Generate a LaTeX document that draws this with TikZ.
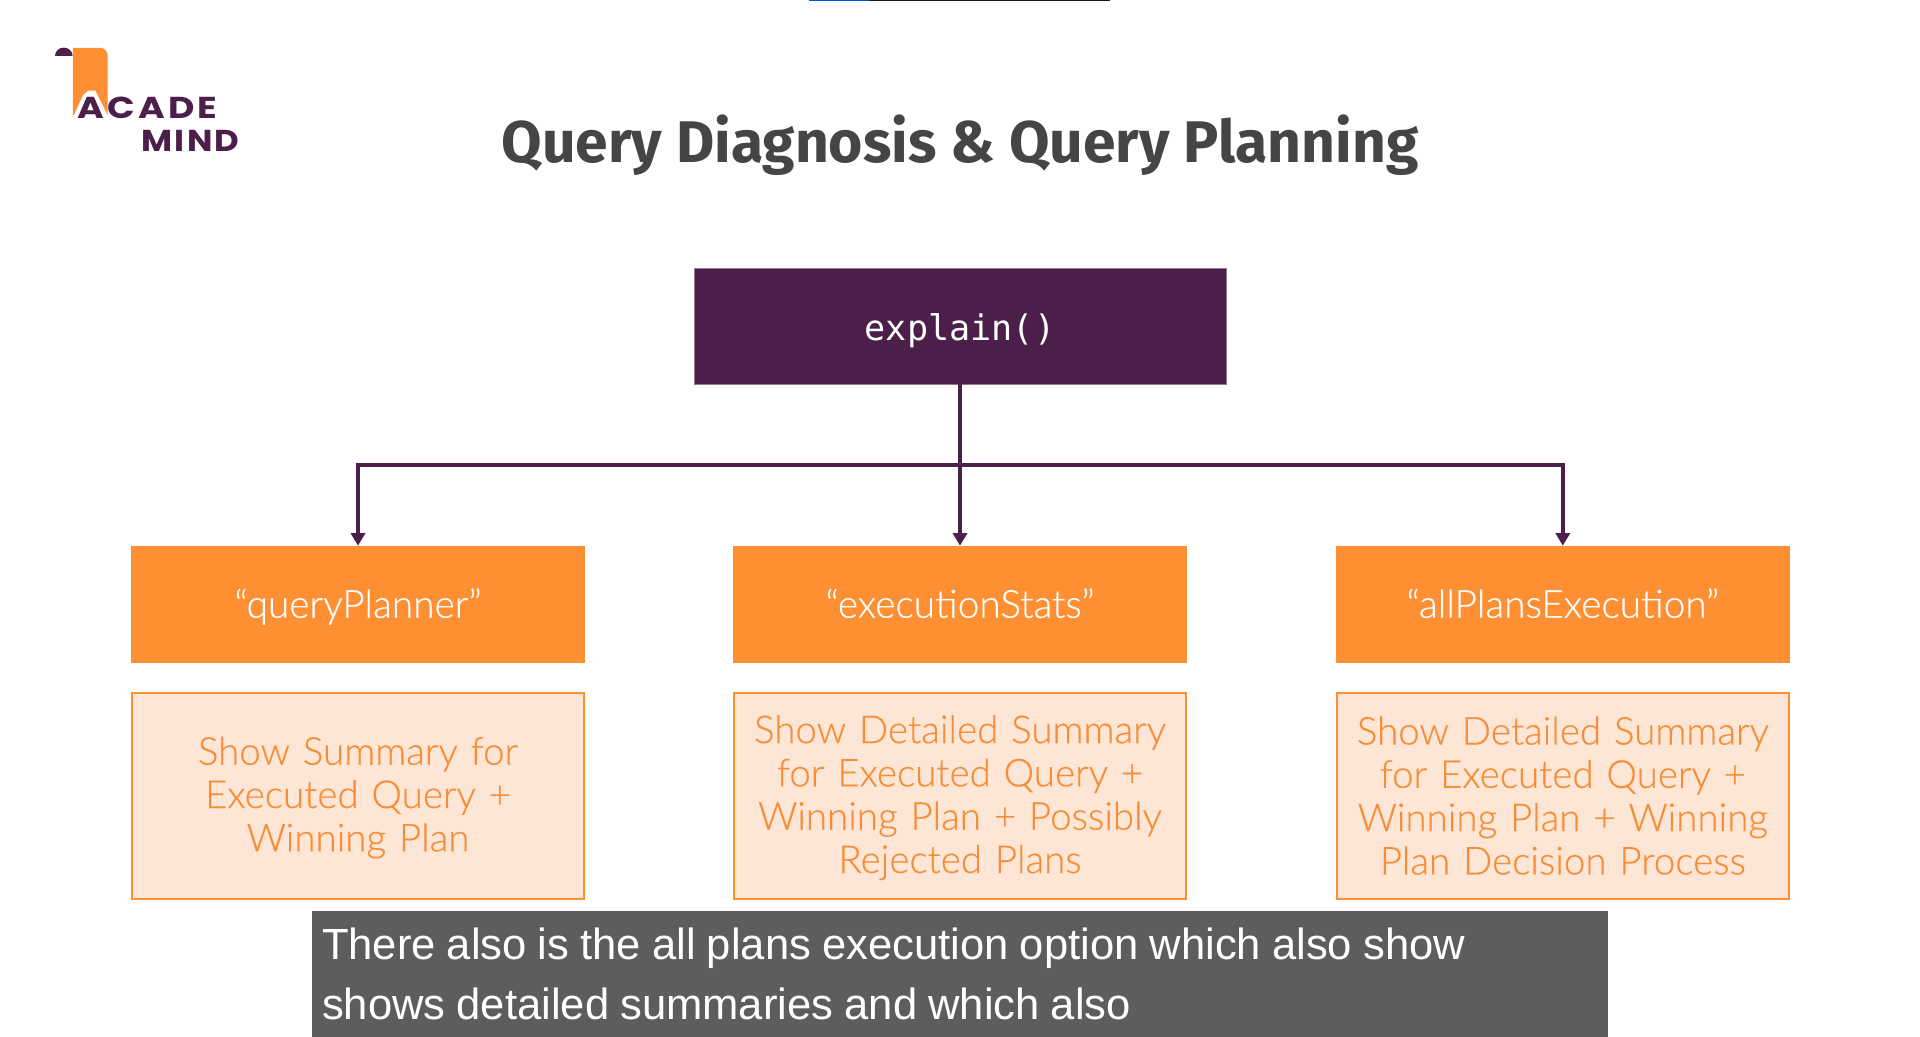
\documentclass[tikz,border=0pt]{standalone}
\usepackage{fontspec}
\usetikzlibrary{arrows.meta}
\setmainfont{Lato}
\newfontfamily\boxfont[FakeBold=0.3]{Lato Light}
\newfontfamily\titlefont{Fira Sans}
\newfontfamily\codefont{DejaVu Sans Mono}
\newfontfamily\capfont{Liberation Sans}
\newfontfamily\acadefont[LetterSpace=11,FakeStretch=1.2]{Poppins}
\newfontfamily\mindfont[LetterSpace=8,FakeStretch=1.12]{Poppins}
\newcommand{\boxstrut}{\rule[-3pt]{0pt}{25.5pt}}
\newcommand{\capspacing}{\spaceskip=0.255em\relax}
\definecolor{acadepurple}{HTML}{4B1F4A}
\definecolor{acadeorange}{HTML}{FF8F33}
\definecolor{acadelight}{HTML}{FDE6D5}
\definecolor{acadetext}{HTML}{F78D36}
\definecolor{captiongray}{HTML}{5C5D5F}
\begin{document}
\begin{tikzpicture}[
        title/.style={anchor=base, inner sep=0pt, text=black!73,
          font=\titlefont\bfseries\fontsize{41.8}{48}\selectfont},
        logotext/.style={inner sep=0pt, text=acadepurple},
        rootbox/.style={rectangle, fill=acadepurple, draw=acadepurple!60,
          line width=0.4pt, minimum width=13.3cm, minimum height=2.9cm,
          text height=20.4pt, text depth=0pt, text=white,
          font=\codefont\fontsize{25}{30}\selectfont},
        modebox/.style={rectangle, fill=acadeorange, minimum width=11.35cm,
          minimum height=2.92cm, text height=19pt, text depth=0pt, text=white,
          font=\boxfont\fontsize{27.6}{30}\selectfont},
        infobox/.style={rectangle, fill=acadelight, draw=acadeorange,
          line width=1.4pt, minimum width=11.3cm, minimum height=5.15cm,
          text width=11cm, align=center, text=acadetext,
          font=\boxfont\fontsize{27.4}{30.8}\selectfont,
          execute at begin node=\boxstrut, execute at end node=\boxstrut},
        captionbox/.style={rectangle, fill=captiongray, minimum width=32.4cm,
          minimum height=3.15cm, text width=31.9cm, align=left, text=white!93,
          font=\capfont\fontsize{31}{42.7}\selectfont,
          execute at begin node=\capspacing},
        connection/.style={-{Triangle[length=9pt,width=10pt]},
          draw=acadepurple, line width=2.9pt}
      ]
      \useasboundingbox (0,0) rectangle (48,25.925);

      % progress bar at the top edge
      \fill[blue!60!cyan!85!black] (20.225,25.895) rectangle (21.725,25.925);
      \fill[black!90] (21.725,25.895) rectangle (27.75,25.925);

      % logo
      \fill[acadeorange] (1.82,23.05) -- (1.82,24.73) -- (2.5,24.73)
        arc (90:0:0.19) -- (2.69,23.05) -- cycle;
      \fill[acadepurple] (1.375,24.525) arc (180:0:0.22 and 0.21) -- cycle;
      \fill[white] (1.85,23.05) -- (2.08,23.55) -- (2.21,23.66) -- (2.38,23.66)
        -- (2.69,23.05) -- cycle;
      \node[logotext, font=\acadefont\bfseries\fontsize{21.5}{24}\selectfont] (acade) at (3.68,23.24) {ACADE};
      \node[logotext, font=\mindfont\bfseries\fontsize{21.5}{24}\selectfont] (mind) at (4.76,22.395) {MIND};

      \node[title] (heading) at (24,21.87) {Query Diagnosis \& Query Planning};

      \node[rootbox] (explain) at (24,17.775) {explain()};

      \node[modebox] (planner) at (8.95,10.815) {“queryPlanner”};
      \node[modebox] (stats) at (24,10.815) {“executionStats”};
      \node[modebox] (allplans) at (39.07,10.815) {“allPlansExecution”};

      \node[infobox] (plannerinfo) at (8.95,6.03)
        {Show Summary for\\Executed Query +\\Winning Plan};
      \node[infobox] (statsinfo) at (24,6.03)
        {Show Detailed Summary\\for Executed Query +\\Winning Plan + Possibly\\Rejected Plans};
      \node[infobox] (allplansinfo) at (39.07,6.03)
        {Show Detailed Summary\\for Executed Query +\\Winning Plan + Winning\\Plan Decision Process};

      \coordinate (split) at (24,14.3);
      \draw[connection] (explain.south) -- (stats.north);
      \draw[connection] (split) -| (planner.north);
      \draw[connection] (split) -| (allplans.north);

      \node[captionbox] (caption) at (24,1.575)
        {There also is the all plans execution option which also show\\shows detailed summaries and which also};
    \end{tikzpicture}
\end{document}
